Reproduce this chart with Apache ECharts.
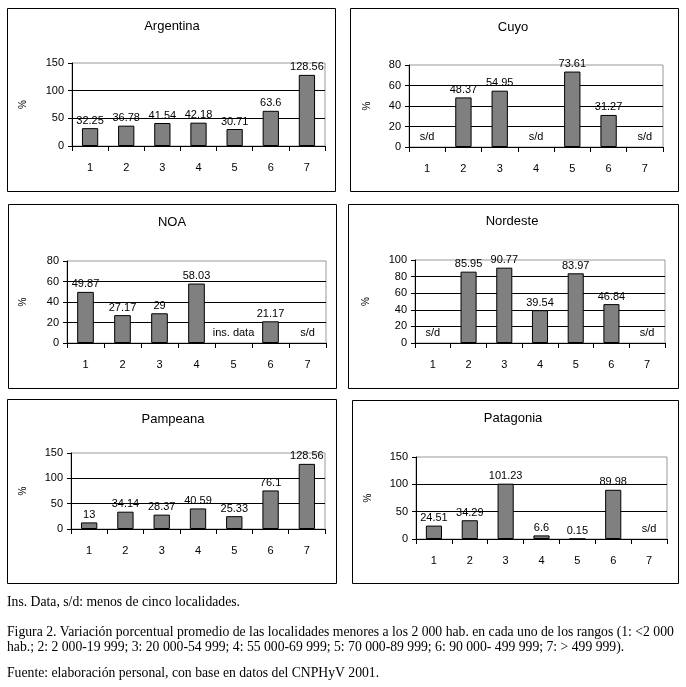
<!DOCTYPE html>
<html>
<head>
<meta charset="utf-8">
<script src="https://cdn.jsdelivr.net/npm/echarts@6/dist/echarts.min.js"></script>
<style>
  html, body { margin: 0; padding: 0; background: #fff; }
  #chart { width: 686px; height: 687px; }
</style>
</head>
<body>
<div id="chart"></div>
<script>
// ---- Data ----
const categories = ['1', '2', '3', '4', '5', '6', '7'];

const argentinaValues = [32.25, 36.78, 41.54, 42.18, 30.71, 63.6, 128.56];
const argentinaNotes  = [null, null, null, null, null, null, null];
const argentinaTicks  = [0, 50, 100, 150];

const cuyoValues = [null, 48.37, 54.95, null, 73.61, 31.27, null];
const cuyoNotes  = ['s/d', null, null, 's/d', null, null, 's/d'];
const cuyoTicks  = [0, 20, 40, 60, 80];

const noaValues = [49.87, 27.17, 29, 58.03, null, 21.17, null];
const noaNotes  = [null, null, null, null, 'ins. data', null, 's/d'];
const noaTicks  = [0, 20, 40, 60, 80];

const nordesteValues = [null, 85.95, 90.77, 39.54, 83.97, 46.84, null];
const nordesteNotes  = ['s/d', null, null, null, null, null, 's/d'];
const nordesteTicks  = [0, 20, 40, 60, 80, 100];

const pampeanaValues = [13, 34.14, 28.37, 40.59, 25.33, 76.1, 128.56];
const pampeanaNotes  = [null, null, null, null, null, null, null];
const pampeanaTicks  = [0, 50, 100, 150];

const patagoniaValues = [24.51, 34.29, 101.23, 6.6, 0.15, 89.98, null];
const patagoniaNotes  = [null, null, null, null, null, null, 's/d'];
const patagoniaTicks  = [0, 50, 100, 150];

const panelTitles = ['Argentina', 'Cuyo', 'NOA', 'Nordeste', 'Pampeana', 'Patagonia'];
const yAxisName = '%';

const noteText = 'Ins. Data, s/d: menos de cinco localidades.';
const captionLine1 = 'Figura 2. Variación porcentual promedio de las localidades menores a los 2 000 hab. en cada uno de los rangos (1: <2 000';
const captionLine2 = 'hab.; 2: 2 000-19 999; 3: 20 000-54 999; 4: 55 000-69 999; 5: 70 000-89 999; 6: 90 000- 499 999; 7: > 499 999).';
const sourceText = 'Fuente: elaboración personal, con base en datos del CNPHyV 2001.';

// ---- Layout (styles) ----
const panels = [
  { values: argentinaValues, notes: argentinaNotes, ticks: argentinaTicks,
    box: [7, 8, 328, 183], grid: [72, 63, 253, 83], titleX: 172, titleY: 20, nameGap: 44 },
  { values: cuyoValues, notes: cuyoNotes, ticks: cuyoTicks,
    box: [350, 8, 328, 183], grid: [409, 65, 254, 82], titleX: 513, titleY: 21, nameGap: 37 },
  { values: noaValues, notes: noaNotes, ticks: noaTicks,
    box: [8, 204, 328, 184], grid: [67, 261, 259, 82], titleX: 172, titleY: 216, nameGap: 39 },
  { values: nordesteValues, notes: nordesteNotes, ticks: nordesteTicks,
    box: [348, 204, 330, 184], grid: [415, 260, 250, 83], titleX: 512, titleY: 215, nameGap: 44 },
  { values: pampeanaValues, notes: pampeanaNotes, ticks: pampeanaTicks,
    box: [7, 399, 329, 184], grid: [71, 453, 254, 76], titleX: 173, titleY: 413, nameGap: 43 },
  { values: patagoniaValues, notes: patagoniaNotes, ticks: patagoniaTicks,
    box: [352, 400, 326, 183], grid: [416, 457, 251, 82], titleX: 513, titleY: 412, nameGap: 43 }
];

const FONT = 'Liberation Sans';
const SERIF = 'Liberation Serif';

const option = {
  animation: false,
  backgroundColor: '#fff',
  title: [],
  grid: [],
  xAxis: [],
  yAxis: [],
  series: [],
  graphic: []
};

panels.forEach((p, i) => {
  const ticks = p.ticks;
  const interval = ticks[1] - ticks[0];
  option.title.push({
    text: panelTitles[i],
    left: p.titleX, top: p.titleY, padding: 0,
    textAlign: 'center',
    textStyle: { fontFamily: FONT, fontSize: 13, fontWeight: 'normal', color: '#000' }
  });
  option.grid.push({
    left: p.grid[0], top: p.grid[1], width: p.grid[2], height: p.grid[3],
    show: true, borderColor: '#999', borderWidth: 1, backgroundColor: 'transparent',
    containLabel: false
  });
  option.xAxis.push({
    type: 'category', gridIndex: i, data: categories,
    boundaryGap: true,
    axisLine: { show: true, lineStyle: { color: '#000', width: 1 } },
    axisTick: { show: true, length: 5, inside: false, lineStyle: { color: '#000' } },
    axisLabel: { margin: 16, fontFamily: FONT, fontSize: 11, color: '#000' },
    splitLine: { show: false }
  });
  option.yAxis.push({
    type: 'value', gridIndex: i,
    min: ticks[0], max: ticks[ticks.length - 1], interval: interval,
    name: yAxisName, nameLocation: 'middle', nameRotate: 90, nameGap: p.nameGap,
    nameTextStyle: { fontFamily: FONT, fontSize: 10, color: '#000' },
    axisLine: { show: true, lineStyle: { color: '#000', width: 1 } },
    axisTick: { show: true, length: 4, lineStyle: { color: '#000' } },
    axisLabel: { margin: 8, fontFamily: FONT, fontSize: 11, color: '#000' },
    splitLine: { show: true, showMinLine: false, showMaxLine: false, lineStyle: { color: '#000', width: 1 } }
  });
  option.series.push({
    type: 'bar', xAxisIndex: i, yAxisIndex: i,
    data: p.values,
    barWidth: '45%',
    barGap: '-100%',
    itemStyle: { color: '#808080', borderColor: '#000', borderWidth: 1 },
    label: {
      show: true, position: 'top', distance: 2,
      fontFamily: FONT, fontSize: 11, color: '#000',
      formatter: (d) => String(d.value)
    },
    z: 3
  });
  option.series.push({
    type: 'bar', xAxisIndex: i, yAxisIndex: i,
    data: p.notes.map(n => (n ? 0 : null)),
    barWidth: '45%',
    barGap: '-100%',
    itemStyle: { color: 'transparent', borderWidth: 0 },
    label: {
      show: true, position: 'top', distance: 5,
      fontFamily: FONT, fontSize: 11, color: '#000',
      formatter: (d) => p.notes[d.dataIndex] || ''
    },
    silent: true,
    z: 4
  });
  option.graphic.push({
    type: 'rect',
    shape: { x: p.box[0] + 0.5, y: p.box[1] + 0.5, width: p.box[2], height: p.box[3] },
    style: { fill: 'none', stroke: '#000', lineWidth: 1 },
    z: 0
  });
});

const serifFont = '13.7px "' + SERIF + '"';
option.graphic.push(
  { type: 'text', left: 7, top: 595, style: { text: noteText, font: serifFont, fill: '#000' } },
  { type: 'text', left: 7, top: 625, style: { text: captionLine1, font: serifFont, fill: '#000' } },
  { type: 'text', left: 7, top: 640, style: { text: captionLine2, font: serifFont, fill: '#000' } },
  { type: 'text', left: 7, top: 666, style: { text: sourceText, font: serifFont, fill: '#000' } }
);

const chart = echarts.init(document.getElementById('chart'), null, { renderer: 'canvas' });
chart.setOption(option);
</script>
</body>
</html>
